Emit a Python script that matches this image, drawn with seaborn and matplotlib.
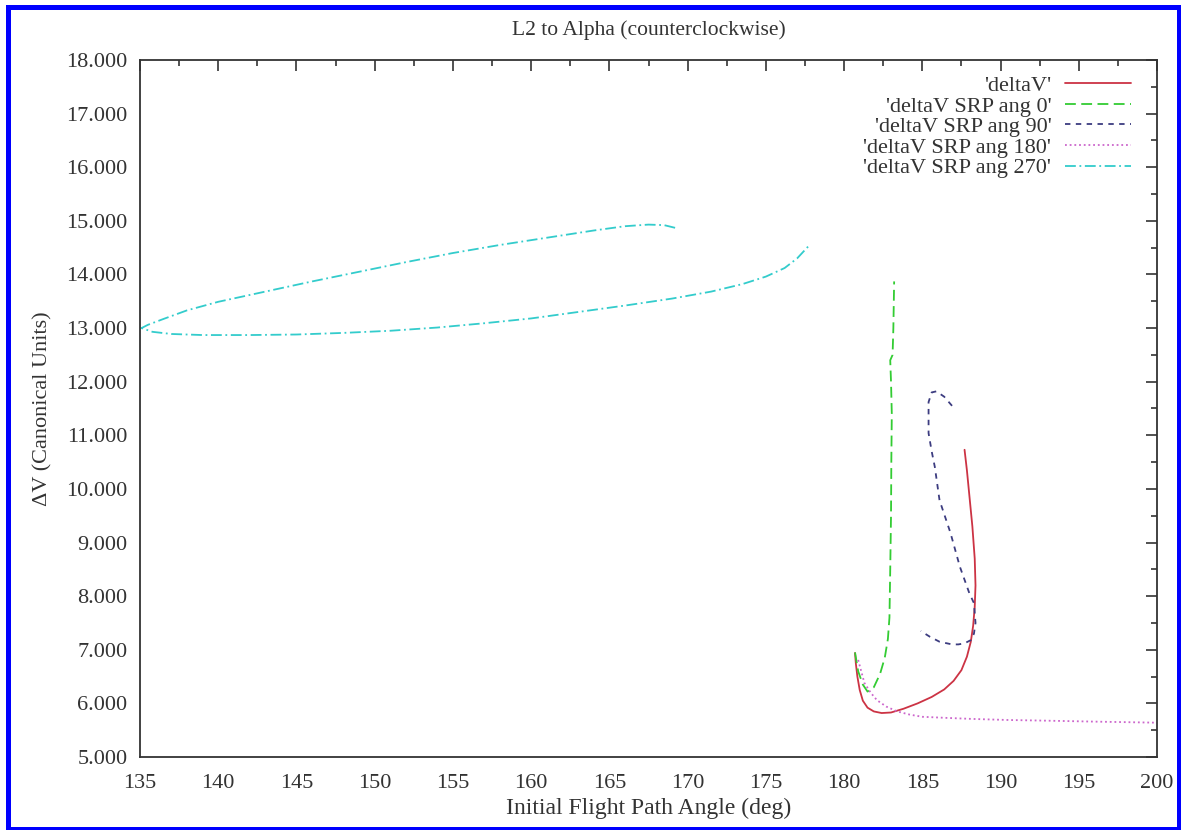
import matplotlib
matplotlib.use("Agg")
import matplotlib.pyplot as plt
from matplotlib.patches import Rectangle
from matplotlib.ticker import MultipleLocator, FormatStrFormatter
import seaborn as sns
import pandas as pd

# values
delta_x = [180.7, 180.75, 180.85, 181.0, 181.2, 181.5, 181.9, 182.4, 183.0, 183.8,
           184.7, 185.6, 186.4, 187.0, 187.5, 187.85, 188.1, 188.25, 188.35, 188.4,
           188.35, 188.2, 188.0, 187.85, 187.7]
delta_y = [6.94, 6.75, 6.50, 6.25, 6.05, 5.92, 5.85, 5.82, 5.83, 5.90,
           6.00, 6.12, 6.26, 6.42, 6.62, 6.87, 7.15, 7.45, 7.80, 8.20,
           8.70, 9.30, 9.90, 10.35, 10.73]

ang0_x = [180.7, 180.9, 181.2, 181.5, 181.9, 182.3, 182.6, 182.8, 182.9, 182.95,
          183.0, 183.02, 183.05, 183.0, 182.95, 183.1, 183.15, 183.2]
ang0_y = [6.95, 6.60, 6.35, 6.22, 6.30, 6.55, 6.85, 7.20, 7.60, 8.50,
          9.50, 10.50, 11.40, 12.00, 12.40, 12.50, 13.00, 13.87]

ang90_x = [186.9, 186.4, 185.9, 185.6, 185.4, 185.4, 185.6, 185.8, 186.1, 186.8,
           187.4, 188.0, 188.3, 188.4, 188.3, 188.1, 187.7, 187.3, 186.9, 186.1,
           185.5, 184.9]
ang90_y = [11.55, 11.72, 11.82, 11.80, 11.62, 11.04, 10.70, 10.41, 9.79, 9.18,
           8.55, 8.06, 7.87, 7.50, 7.30, 7.18, 7.12, 7.10, 7.10, 7.15,
           7.24, 7.35]

ang180_x = [180.9, 181.3, 181.7, 182.1, 182.7, 183.4, 184.2, 185.0, 186.5, 188.2,
            190.5, 192.5, 196.0, 200.0]
ang180_y = [6.81, 6.38, 6.20, 6.06, 5.94, 5.85, 5.79, 5.75, 5.73, 5.71,
            5.69, 5.68, 5.66, 5.64]

ang270_x = [169.2, 168.5, 167.5, 166.0, 164.0, 162.0, 160.0, 158.0, 155.0, 152.0,
            149.0, 146.0, 143.0, 140.0, 138.0, 136.5, 135.5, 135.1,
            135.8, 137.0, 139.0, 142.0, 145.0, 148.0, 151.0, 154.0, 157.0, 160.0,
            163.0, 166.0, 169.0, 171.5, 173.5, 175.0, 176.2, 177.0, 177.7]
ang270_y = [14.87, 14.92, 14.93, 14.90, 14.82, 14.73, 14.64, 14.55, 14.40, 14.23,
            14.05, 13.87, 13.68, 13.49, 13.33, 13.17, 13.06, 13.00,
            12.93, 12.89, 12.87, 12.87, 12.88, 12.91, 12.95, 13.01, 13.09, 13.18,
            13.30, 13.42, 13.55, 13.68, 13.82, 13.96, 14.12, 14.30, 14.52]

labels = ["'deltaV'", "'deltaV SRP ang 0'", "'deltaV SRP ang 90'",
          "'deltaV SRP ang 180'", "'deltaV SRP ang 270'"]
colors = ["#cc3344", "#33cc33", "#3c3c80", "#cc66cc", "#33cccc"]
dashes = [(None, None), (6, 3), (3, 3), (1, 1.6), (6, 2, 1, 2)]

series = [(delta_x, delta_y), (ang0_x, ang0_y), (ang90_x, ang90_y),
          (ang180_x, ang180_y), (ang270_x, ang270_y)]

sns.set_style("white")
plt.rcParams['font.family'] = ['Liberation Serif', 'DejaVu Serif']

fig = plt.figure(figsize=(11.81, 8.30), dpi=100)
ax = fig.add_axes([140 / 1181, 73 / 830, 1017 / 1181, 697 / 830])

for (xs, ys), lab, col, ds in zip(series, labels, colors, dashes):
    df = pd.DataFrame({'x': xs, 'y': ys})
    sns.lineplot(data=df, x='x', y='y', sort=False, estimator=None,
                 color=col, lw=1.3, label=lab, ax=ax)
    if ds[0] is not None:
        ax.lines[-1].set_dashes(ds)

ax.set_xlim(135, 200)
ax.set_ylim(5, 18)
ax.xaxis.set_major_locator(MultipleLocator(5))
ax.xaxis.set_minor_locator(MultipleLocator(2.5))
ax.yaxis.set_major_locator(MultipleLocator(1))
ax.yaxis.set_minor_locator(MultipleLocator(0.5))
ax.yaxis.set_major_formatter(FormatStrFormatter('%.3f'))
ax.tick_params(which='both', direction='in', top=True, right=True,
               labelsize=16, colors='#333333', width=1.2)
ax.tick_params(which='major', length=8, pad=9)
ax.tick_params(axis='x', which='major', pad=12)
ax.tick_params(which='minor', length=4.5)
for sp in ax.spines.values():
    sp.set_color('#333333')
    sp.set_linewidth(1.3)

ax.set_title('L2 to Alpha (counterclockwise)', fontsize=15.5, color='#333333', pad=18)
ax.set_xlabel('Initial Flight Path Angle (deg)', fontsize=17, color='#333333', labelpad=4)
ax.set_ylabel('ΔV (Canonical Units)', fontsize=16, color='#333333', labelpad=10)

leg = ax.legend(loc='upper right', bbox_to_anchor=(0.99, 1.0), frameon=False,
                markerfirst=False, fontsize=16, handlelength=3.0,
                labelspacing=0.0, handletextpad=0.6, borderaxespad=0.3)
for t in leg.get_texts():
    t.set_color('#333333')

fig.add_artist(Rectangle((7.5 / 1181, 1.5 / 830), 1171 / 1181, 821 / 830,
                         transform=fig.transFigure, fill=False,
                         edgecolor='#0000ff', lw=3.6))

fig.savefig('out.png', dpi=100)
